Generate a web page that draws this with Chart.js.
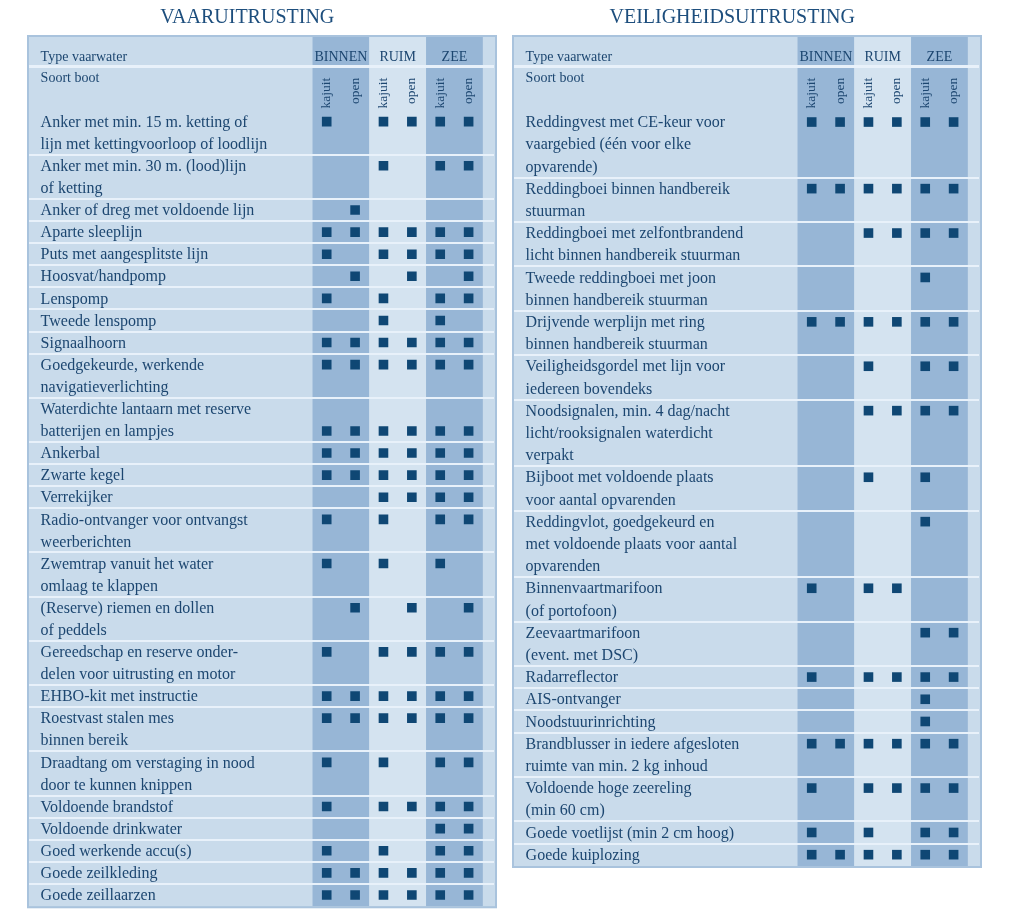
<!DOCTYPE html>
<html>
<head>
<meta charset="utf-8">
<script src="https://cdn.jsdelivr.net/npm/chart.js@4.4.1/dist/chart.umd.min.js"></script>
<style>
  html, body { margin: 0; padding: 0; background: #fff; }
  #wrap { position: relative; width: 1024px; height: 915px; }
  canvas { position: absolute; left: 0; top: 0; }
</style>
</head>
<body>
<div id="wrap">
  <canvas id="vaar" width="1024" height="915"></canvas>
  <canvas id="veilig" width="1024" height="915"></canvas>
</div>
<script>
// column headers
const waterTypes = ['BINNEN', 'RUIM', 'ZEE'];
const boatTypes = ['kajuit', 'open', 'kajuit', 'open', 'kajuit', 'open'];

// VAARUITRUSTING
const vaarItems = [
  'Anker met min. 15 m. ketting of\nlijn met kettingvoorloop of loodlijn',
  'Anker met min. 30 m. (lood)lijn\nof ketting',
  'Anker of dreg met voldoende lijn',
  'Aparte sleeplijn',
  'Puts met aangesplitste lijn',
  'Hoosvat/handpomp',
  'Lenspomp',
  'Tweede lenspomp',
  'Signaalhoorn',
  'Goedgekeurde, werkende\nnavigatieverlichting',
  'Waterdichte lantaarn met reserve\nbatterijen en lampjes',
  'Ankerbal',
  'Zwarte kegel',
  'Verrekijker',
  'Radio-ontvanger voor ontvangst\nweerberichten',
  'Zwemtrap vanuit het water\nomlaag te klappen',
  '(Reserve) riemen en dollen\nof peddels',
  'Gereedschap en reserve onder-\ndelen voor uitrusting en motor',
  'EHBO-kit met instructie',
  'Roestvast stalen mes\nbinnen bereik',
  'Draadtang om verstaging in nood\ndoor te kunnen knippen',
  'Voldoende brandstof',
  'Voldoende drinkwater',
  'Goed werkende accu(s)',
  'Goede zeilkleding',
  'Goede zeillaarzen'
];
const vaarMarks = [
  [1,0,1,1,1,1], [0,0,1,0,1,1], [0,1,0,0,0,0], [1,1,1,1,1,1], [1,0,1,1,1,1],
  [0,1,0,1,0,1], [1,0,1,0,1,1], [0,0,1,0,1,0], [1,1,1,1,1,1], [1,1,1,1,1,1],
  [1,1,1,1,1,1], [1,1,1,1,1,1], [1,1,1,1,1,1], [0,0,1,1,1,1], [1,0,1,0,1,1],
  [1,0,1,0,1,0], [0,1,0,1,0,1], [1,0,1,1,1,1], [1,1,1,1,1,1], [1,1,1,1,1,1],
  [1,0,1,0,1,1], [1,0,1,1,1,1], [0,0,0,0,1,1], [1,0,1,0,1,1], [1,1,1,1,1,1],
  [1,1,1,1,1,1]
];
// text line of the row that carries the marks (default first line)
const vaarMarkLine = { 10: 1 };

// VEILIGHEIDSUITRUSTING
const veiligItems = [
  'Reddingvest met CE-keur voor\nvaargebied (één voor elke\nopvarende)',
  'Reddingboei binnen handbereik\nstuurman',
  'Reddingboei met zelfontbrandend\nlicht binnen handbereik stuurman',
  'Tweede reddingboei met joon\nbinnen handbereik stuurman',
  'Drijvende werplijn met ring\nbinnen handbereik stuurman',
  'Veiligheidsgordel met lijn voor\niedereen bovendeks',
  'Noodsignalen, min. 4 dag/nacht\nlicht/rooksignalen waterdicht\nverpakt',
  'Bijboot met voldoende plaats\nvoor aantal opvarenden',
  'Reddingvlot, goedgekeurd en\nmet voldoende plaats voor aantal\nopvarenden',
  'Binnenvaartmarifoon\n(of portofoon)',
  'Zeevaartmarifoon\n(event. met DSC)',
  'Radarreflector',
  'AIS-ontvanger',
  'Noodstuurinrichting',
  'Brandblusser in iedere afgesloten\nruimte van min. 2 kg inhoud',
  'Voldoende hoge zeereling\n(min 60 cm)',
  'Goede voetlijst (min 2 cm hoog)',
  'Goede kuiplozing'
];
const veiligMarks = [
  [1,1,1,1,1,1], [1,1,1,1,1,1], [0,0,1,1,1,1], [0,0,0,0,1,0], [1,1,1,1,1,1],
  [0,0,1,0,1,1], [0,0,1,1,1,1], [0,0,1,0,1,0], [0,0,0,0,1,0], [1,0,1,1,0,0],
  [0,0,0,0,1,1], [1,0,1,1,1,1], [0,0,0,0,1,0], [0,0,0,0,1,0], [1,1,1,1,1,1],
  [1,0,1,1,1,1], [1,0,1,0,1,1], [1,1,1,1,1,1]
];
const veiligMarkLine = {};

const COL = {
  bg: '#c9dbeb', dark: '#97b6d6', light: '#d4e3f0', sep: '#e8f1fa',
  border: '#a9c3dd', mark: '#0f4774', text: '#1c4670', title: '#1d4e7d'
};
const SERIF = '"Liberation Serif", "DejaVu Serif", serif';

function rowStarts(items) {
  const starts = [];
  let n = 0;
  items.forEach(t => { starts.push(n); n += t.split('\n').length; });
  return { starts, total: n };
}

const tablePlugin = {
  id: 'table',
  beforeDatasetsDraw(chart, args, opts) {
    const { ctx, chartArea: a, scales: { x, y } } = chart;
    const { starts } = rowStarts(opts.items);
    ctx.save();
    // box
    ctx.fillStyle = COL.bg;
    ctx.fillRect(a.left, a.top, a.width, a.height);
    // column bands
    waterTypes.forEach((w, i) => {
      const x0 = x.getPixelForValue(i * 2 - 0.5);
      const x1 = x.getPixelForValue(i * 2 + 1.5);
      ctx.fillStyle = i === 1 ? COL.light : COL.dark;
      ctx.fillRect(x0, a.top + 2, x1 - x0, a.height - 4);
    });
    // row separators
    ctx.strokeStyle = COL.sep;
    ctx.lineWidth = 2;
    starts.slice(1).forEach(s => {
      const py = Math.round(y.getPixelForValue(s));
      ctx.beginPath(); ctx.moveTo(a.left + 2, py); ctx.lineTo(a.right - 3, py); ctx.stroke();
    });
    ctx.lineWidth = 3;
    const hy = y.getPixelForValue(-2);
    ctx.beginPath(); ctx.moveTo(a.left + 2, hy); ctx.lineTo(a.right - 3, hy); ctx.stroke();
    // border
    ctx.strokeStyle = COL.border;
    ctx.lineWidth = 2;
    ctx.strokeRect(a.left + 1, a.top + 1, a.width - 2, a.height - 2);

    // title
    ctx.fillStyle = COL.title;
    ctx.font = '20px ' + SERIF;
    ctx.textAlign = 'center';
    ctx.textBaseline = 'alphabetic';
    ctx.fillText(opts.title, x.getPixelForValue(-2.8), a.top - 12);

    // header
    ctx.fillStyle = COL.text;
    ctx.font = '14px ' + SERIF;
    ctx.textAlign = 'left';
    ctx.textBaseline = 'middle';
    const lx = x.getPixelForValue(-10.08);
    ctx.fillText('Type vaarwater', lx, y.getPixelForValue(-2.43));
    ctx.fillText('Soort boot', lx, y.getPixelForValue(-1.45));
    ctx.textAlign = 'center';
    waterTypes.forEach((w, i) => {
      ctx.fillText(w, x.getPixelForValue(i * 2 + 0.5), y.getPixelForValue(-2.43));
    });
    ctx.font = '13.5px ' + SERIF;
    ctx.textAlign = 'right';
    boatTypes.forEach((b, i) => {
      ctx.save();
      ctx.translate(x.getPixelForValue(i), y.getPixelForValue(-1.49));
      ctx.rotate(-Math.PI / 2);
      ctx.fillText(b, 0, 0);
      ctx.restore();
    });

    // row labels
    ctx.font = '16px ' + SERIF;
    ctx.textAlign = 'left';
    opts.items.forEach((t, r) => {
      t.split('\n').forEach((line, k) => {
        ctx.fillText(line, lx, y.getPixelForValue(starts[r] + k + 0.5) + 1);
      });
    });
    ctx.restore();
  }
};

function makeTable(id, title, items, marks, markLine, pad) {
  const { starts, total } = rowStarts(items);
  const points = [];
  marks.forEach((row, r) => {
    row.forEach((v, c) => {
      if (v) points.push({ x: c, y: starts[r] + (markLine[r] || 0) + 0.5 });
    });
  });
  new Chart(document.getElementById(id), {
    type: 'scatter',
    data: {
      datasets: [{
        data: points,
        pointStyle: 'rect',
        pointRadius: 6.8,
        pointBorderWidth: 0,
        backgroundColor: COL.mark,
        borderColor: COL.mark
      }]
    },
    options: {
      responsive: false,
      animation: false,
      events: [],
      layout: { padding: pad },
      plugins: {
        legend: { display: false },
        tooltip: { enabled: false },
        table: { title, items }
      },
      scales: {
        x: { type: 'linear', min: -10.56, max: 6.0, display: false },
        y: { type: 'linear', min: -3.42, max: total + 0.1, reverse: true, display: false }
      }
    },
    plugins: [tablePlugin]
  });
}

makeTable('vaar', 'VAARUITRUSTING', vaarItems, vaarMarks, vaarMarkLine,
  { left: 27, top: 35, right: 527, bottom: 3 });
makeTable('veilig', 'VEILIGHEIDSUITRUSTING', veiligItems, veiligMarks, veiligMarkLine,
  { left: 512, top: 35, right: 42, bottom: 47 });
</script>
</body>
</html>
